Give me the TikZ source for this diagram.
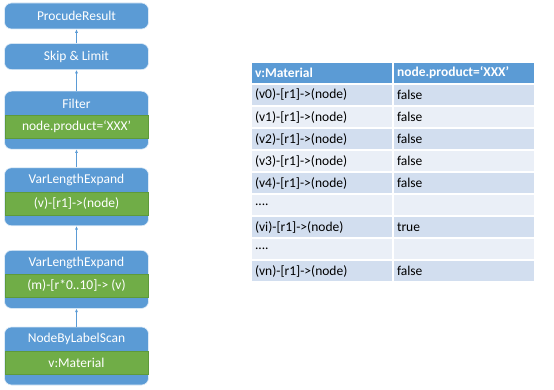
\documentclass[tikz,border=0pt]{standalone}
\usepackage{fontspec}
\setmainfont{Carlito}
\usetikzlibrary{positioning, arrows.meta}
\definecolor{boxblue}{HTML}{5B9BD5}
\definecolor{bandgreen}{HTML}{70AD47}
\definecolor{banddark}{HTML}{5E9A3A}
\definecolor{rowdark}{HTML}{D2DEEF}
\definecolor{rowlight}{HTML}{EAEFF7}

\begin{document}
\begin{tikzpicture}[x=1pt, y=1pt, node distance=18pt,
  every node/.style={font=\fontsize{13.5}{15}\selectfont, inner sep=0pt},
  opbox/.style={draw=white!80!boxblue, line width=0.6pt, rounded corners=7pt, fill=boxblue, text=white, minimum width=144pt, minimum height=26pt},
  stagebox/.style={opbox, minimum height=58pt},
  head/.style={text=white},
  band/.style={draw=banddark, line width=0.5pt, fill=bandgreen, text=white, minimum width=143pt, minimum height=23pt},
  arrow/.style={-{Latex[length=3.5pt, width=3pt]}, draw=boxblue, line width=0.6pt},
  cell/.style={draw=white, line width=1.2pt, outer sep=0pt, minimum height=22pt, text width=134pt, inner xsep=4pt, align=left},
  hcell/.style={cell, fill=boxblue, text=white, font=\fontsize{13.5}{15}\selectfont\bfseries},
  dcell/.style={cell, fill=rowdark},
  lcell/.style={cell, fill=rowlight}]
  \useasboundingbox (0,0) rectangle (554,-390);

  % operator stack, bottom up
  \node[stagebox] (scan) at (76.5,-356) {};
  \node[stagebox, above=of scan] (expand2) {};
  \node[stagebox, above=24pt of expand2] (expand1) {};
  \node[stagebox, above=of expand1] (filter) {};
  \node[opbox, above=21pt of filter] (limit) {Skip \& Limit};
  \node[opbox, above=14pt of limit] (result) {ProcudeResult};

  \node[head] at ([yshift=-12.5pt]scan.north) {NodeByLabelScan};
  \node[band] at ([yshift=-6.5pt]scan.center) {v:Material};
  \node[head] at ([yshift=-12.5pt]expand2.north) {VarLengthExpand};
  \node[band] at ([yshift=-6.5pt]expand2.center) {(m)-[r*0..10]-> (v)};
  \node[head] at ([yshift=-12.5pt]expand1.north) {VarLengthExpand};
  \node[band] at ([yshift=-6.5pt]expand1.center) {(v)-[r1]->(node)};
  \node[head] at ([yshift=-12.5pt]filter.north) {Filter};
  \node[band] at ([yshift=-6.5pt]filter.center) {node.product=‘XXX’};

  \draw[arrow] (scan) -- (expand2); \draw[arrow] (expand2) -- (expand1);
  \draw[arrow] (expand1) -- (filter); \draw[arrow] (filter) -- (limit);
  \draw[arrow] (limit) -- (result);

  % result table
  \node[hcell, anchor=north west] (h1) at (251,-62) {v:Material};
  \node[hcell, right=0pt of h1] (h2) {node.product=‘XXX’};
  \node[dcell, below=0pt of h1] (a1) {(v0)-[r1]->(node)};
  \node[dcell, right=0pt of a1] (a2) {false};
  \node[lcell, below=0pt of a1] (b1) {(v1)-[r1]->(node)};
  \node[lcell, right=0pt of b1] (b2) {false};
  \node[dcell, below=0pt of b1] (c1) {(v2)-[r1]->(node)};
  \node[dcell, right=0pt of c1] (c2) {false};
  \node[lcell, below=0pt of c1] (d1) {(v3)-[r1]->(node)};
  \node[lcell, right=0pt of d1] (d2) {false};
  \node[dcell, below=0pt of d1] (e1) {(v4)-[r1]->(node)};
  \node[dcell, right=0pt of e1] (e2) {false};
  \node[lcell, below=0pt of e1] (f1) {....};
  \node[lcell, right=0pt of f1] (f2) {};
  \node[dcell, below=0pt of f1] (g1) {(vi)-[r1]->(node)};
  \node[dcell, right=0pt of g1] (g2) {true};
  \node[lcell, below=0pt of g1] (k1) {....};
  \node[lcell, right=0pt of k1] (k2) {};
  \node[dcell, below=0pt of k1] (n1) {(vn)-[r1]->(node)};
  \node[dcell, right=0pt of n1] (n2) {false};
\end{tikzpicture}
\end{document}
